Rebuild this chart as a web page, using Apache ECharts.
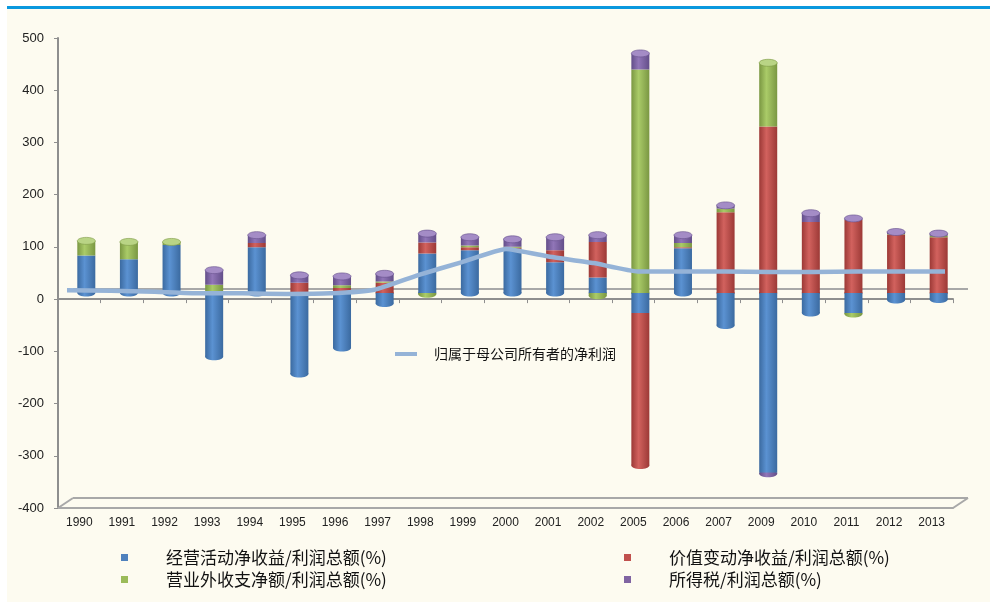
<!DOCTYPE html>
<html>
<head>
<meta charset="utf-8">
<script src="https://cdn.jsdelivr.net/npm/echarts@6/dist/echarts.min.js"></script>
<style>
  html, body { margin: 0; padding: 0; background: #ffffff; }
  #frame {
    position: absolute; left: 7px; top: 6px; width: 983px; height: 593px;
    background: #FDFBF0; border-top: 3px solid #0A98DE;
  }
  #chart { position: absolute; left: 0; top: 0; width: 998px; height: 602px; }
</style>
</head>
<body>
<div id="frame"></div>
<div id="chart"></div>
<script>
// Reporting years (2003, 2004 and 2008 are not reported)
const years = ['1990', '1991', '1992', '1993', '1994', '1995', '1996', '1997', '1998', '1999',
  '2000', '2001', '2002', '2005', '2006', '2007', '2009', '2010', '2011', '2012', '2013'];

// 经营活动净收益/利润总额(%)
const operatingRatio = [72, 65, 92, -122, 88, -155, -105, -20, 76, 82,
  85, 59, 30, -38, 86, -62, -344, -38, -38, -13, -12];
// 价值变动净收益/利润总额(%)
const fairValueRatio = [0, 0, 0, 0, 8, 20, 10, 20, 21, 6,
  2, 23, 68, -292, 2, 155, 319, 136, 140, 112, 107];
// 营业外收支净额/利润总额(%)
const nonOperatingRatio = [28, 33, 6, 16, 0, 0, 5, 2, -2, 3,
  2, 0, -5, 428, 8, 7, 122, 0, -2, 1, 3];
// 所得税/利润总额(%)
const incomeTaxRatio = [0, 0, 0, 28, 15, 14, 17, 15, 17, 16,
  14, 25, 13, 31, 15, 6, -2, 17, 3, 4, 4];
// 归属于母公司所有者的净利润
const netProfit = [17, 16, 14, 11, 11, 10, 11, 18, 46, 71,
  96, 81, 69, 53, 53, 53, 52, 52, 53, 53, 53];

// value axis range
const yMin = -400, yMax = 500, yStep = 100;

const KEYS = ['op', 'fv', 'no', 'tax'];
const NAMES = {
  op: '经营活动净收益/利润总额(%)',
  fv: '价值变动净收益/利润总额(%)',
  no: '营业外收支净额/利润总额(%)',
  tax: '所得税/利润总额(%)',
  np: '归属于母公司所有者的净利润'
};
const SERIES_DATA = { op: operatingRatio, fv: fairValueRatio, no: nonOperatingRatio, tax: incomeTaxRatio };

// plot box of the front plane and the depth of the pseudo-3D walls
const G = { left: 58, right: 45, top: 38, bottom: 94 };
const DX = 15, DY = -10;
const BAR_W = 18, CAP_RY = 3.5;

// [shadow side, lit side, flat legend colour, top face]
const C = {
  op: ['#3B6AA0', '#5B92D2', '#4F81BD', '#7BA4D8'],
  fv: ['#9C3936', '#D2625E', '#C0504D', '#D97A76'],
  no: ['#7A9742', '#AACB68', '#9BBB59', '#B9D485'],
  tax: ['#634E89', '#9176B8', '#8064A2', '#A48CC6']
};
function cylinder(key) {
  return new echarts.graphic.LinearGradient(0, 0, 1, 0, [
    { offset: 0, color: C[key][0] },
    { offset: 0.4, color: C[key][1] },
    { offset: 1, color: C[key][0] }
  ]);
}

// outermost non-zero segment of the positive / negative stack for a category
function stackEnds(i) {
  let pos = 0, neg = 0, posKey = null, negKey = null, posBase = null;
  KEYS.forEach(k => {
    const v = SERIES_DATA[k][i];
    if (v > 0) { pos += v; posKey = k; if (!posBase) posBase = k; }
    else if (v < 0) { neg += v; negKey = k; }
  });
  return { pos, neg, posKey, negKey, posBase };
}

const chart = echarts.init(document.getElementById('chart'), null, { renderer: 'canvas' });
const axisGray = '#8E8E8E';

function barSeries(key) {
  return {
    name: NAMES[key], type: 'bar', stack: 'total',
    xAxisIndex: 2, yAxisIndex: 1, z: 3,
    barWidth: BAR_W, data: SERIES_DATA[key],
    itemStyle: { color: cylinder(key) },
    emphasis: { disabled: true }
  };
}

// rounded bottoms of the cylinders (drawn behind the bodies)
function renderBottoms(params, api) {
  const i = api.value(0);
  const e = stackEnds(i);
  const kids = [];
  const add = (val, key) => {
    const p = api.coord([i, val]);
    kids.push({
      type: 'ellipse', shape: { cx: p[0], cy: p[1], rx: BAR_W / 2, ry: CAP_RY },
      style: { fill: cylinder(key) }
    });
  };
  if (e.posBase) add(0, e.posBase);
  if (e.negKey) add(e.neg, e.negKey);
  return { type: 'group', children: kids };
}
// elliptical top faces
function renderTops(params, api) {
  const i = api.value(0);
  const e = stackEnds(i);
  if (!e.posKey) return { type: 'group', children: [] };
  const p = api.coord([i, e.pos]);
  return {
    type: 'ellipse', shape: { cx: p[0], cy: p[1], rx: BAR_W / 2, ry: CAP_RY },
    style: { fill: C[e.posKey][3], stroke: C[e.posKey][0], lineWidth: 0.6 }
  };
}
const catIndex = years.map((y, i) => [i]);

function legendBox(key, left, top) {
  return {
    left: left, top: top, orient: 'horizontal',
    data: [{ name: NAMES[key], itemStyle: { color: C[key][2] } }],
    icon: 'rect', itemWidth: 7, itemHeight: 7,
    textStyle: {
      fontFamily: 'Noto Sans CJK SC', fontSize: 17, color: '#111',
      padding: [0, 0, 0, 33]
    },
    selectedMode: false
  };
}

const option = {
  animation: false,
  backgroundColor: 'transparent',
  grid: [
    { left: G.left, right: G.right, top: G.top, bottom: G.bottom },
    // bars stand halfway into the depth of the plot
    { left: G.left + 7, right: G.right - 7, top: G.top - 6, bottom: G.bottom + 6 },
    // line series
    { left: 67, right: 53, top: G.top, bottom: G.bottom }
  ],
  xAxis: [
    {
      type: 'category', gridIndex: 0, data: years, position: 'bottom',
      axisLine: { onZero: true, lineStyle: { color: axisGray, width: 2 } },
      axisTick: { show: true, length: 4, lineStyle: { color: axisGray, width: 1 } },
      axisLabel: { show: false }
    },
    {
      type: 'category', gridIndex: 0, data: years, position: 'bottom',
      axisLine: { onZero: false, lineStyle: { color: '#A8A8A8', width: 2 } },
      axisTick: { show: false },
      axisLabel: {
        margin: 9, interval: 0, color: '#222',
        fontFamily: 'Liberation Sans', fontSize: 12
      }
    },
    { type: 'category', gridIndex: 1, data: years, show: false },
    { type: 'category', gridIndex: 2, data: years, show: false, boundaryGap: false }
  ],
  yAxis: [
    {
      type: 'value', gridIndex: 0, min: yMin, max: yMax, interval: yStep,
      axisLine: { show: true, lineStyle: { color: axisGray, width: 2 } },
      axisTick: { show: true, length: 4, lineStyle: { color: axisGray } },
      splitLine: { show: false },
      axisLabel: { margin: 14, color: '#222', fontFamily: 'Liberation Sans', fontSize: 13 }
    },
    { type: 'value', gridIndex: 1, min: yMin, max: yMax, interval: yStep, show: false, splitLine: { show: false } },
    { type: 'value', gridIndex: 2, min: yMin, max: yMax, interval: yStep, show: false, splitLine: { show: false } }
  ],
  legend: [
    legendBox('op', 116, 544),
    legendBox('no', 116, 566),
    legendBox('fv', 619, 544),
    legendBox('tax', 619, 566),
    {
      left: 390, top: 342,
      data: [{ name: NAMES.np, icon: 'rect', itemStyle: { color: '#95B3D7' } }],
      itemWidth: 22, itemHeight: 4,
      textStyle: { fontFamily: 'Noto Sans CJK SC', fontSize: 14, color: '#111', padding: [0, 0, 0, 12] },
      selectedMode: false
    }
  ],
  series: [
    {
      type: 'custom', xAxisIndex: 2, yAxisIndex: 1, z: 2, silent: true,
      data: catIndex, renderItem: renderBottoms
    },
    barSeries('op'),
    barSeries('fv'),
    barSeries('no'),
    barSeries('tax'),
    {
      type: 'custom', xAxisIndex: 2, yAxisIndex: 1, z: 4, silent: true,
      data: catIndex, renderItem: renderTops
    },
    {
      name: NAMES.np, type: 'line', xAxisIndex: 3, yAxisIndex: 2,
      data: netProfit, symbol: 'none', smooth: 0.15, z: 6,
      lineStyle: { color: '#95B3D7', width: 4.5 },
      itemStyle: { color: '#95B3D7' },
      emphasis: { disabled: true }
    }
  ]
};
chart.setOption(option);

// pseudo-3D floor and back-wall zero line
const W = chart.getWidth();
const xL = G.left, xR = W - G.right;
const yZero = chart.convertToPixel({ yAxisIndex: 0 }, 0);
const yFloor = chart.convertToPixel({ yAxisIndex: 0 }, yMin);
const wallLine = { stroke: '#A8A8A8', lineWidth: 2 };
function seg(x1, y1, x2, y2) {
  return { type: 'line', z: 0, silent: true, shape: { x1, y1, x2, y2 }, style: wallLine };
}
chart.setOption({
  graphic: [
    seg(xL + DX, yZero + DY, xR + DX, yZero + DY),
    seg(xL + DX, yFloor + DY, xR + DX, yFloor + DY),
    seg(xL, yFloor, xL + DX, yFloor + DY),
    seg(xR, yFloor, xR + DX, yFloor + DY)
  ]
});
</script>
</body>
</html>
